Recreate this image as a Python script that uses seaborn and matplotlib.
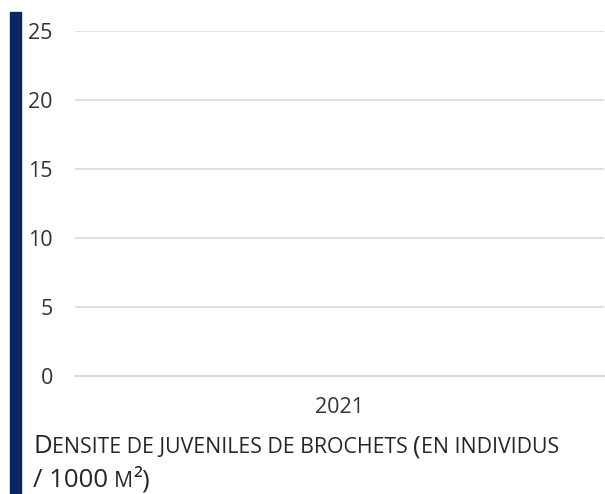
import matplotlib
matplotlib.use("Agg")
import matplotlib.pyplot as plt
import matplotlib.patches as mpatches
import seaborn as sns

# data
years = ["2021"]
densite = [0]
y_ticks = [0, 5, 10, 15, 20, 25]

sns.set_theme(style="white")
plt.rcParams["font.family"] = ["Open Sans", "DejaVu Sans"]

fig = plt.figure(figsize=(6.05, 4.94), dpi=100)
ax = fig.add_axes([75 / 605, 1 - 376 / 494, 529 / 605, 345 / 494])

sns.barplot(x=years, y=densite, color="#4472c4", ax=ax)

ax.set_ylim(0, 25)
ax.set_xlim(-0.5, 0.5)
ax.set_yticks(y_ticks)
ax.set_yticklabels([str(v) for v in y_ticks], fontsize=15.5, color="#333333")
ax.tick_params(axis="y", length=0, pad=16)
ax.yaxis.grid(True, color="#d9d9d9", linewidth=1.2)
ax.set_axisbelow(True)

# category borders ticks + centred label
ax.set_xticks([-0.5, 0.5])
ax.set_xticklabels(["", ""])
ax.tick_params(axis="x", which="major", length=5, width=1.5, color="#d9d9d9", direction="out")
ax.set_xticks([0], minor=True)
ax.set_xticklabels(years, minor=True, fontsize=15.5, color="#333333")
ax.tick_params(axis="x", which="minor", length=0, pad=15)
ax.set_xlabel("")
ax.set_ylabel("")

for side in ["top", "right", "left"]:
    ax.spines[side].set_visible(False)
ax.spines["bottom"].set_color("#d9d9d9")
ax.spines["bottom"].set_linewidth(1.5)

# dark blue band on the left
fig.patches.append(mpatches.Rectangle((10 / 605, 0), 11 / 605, 1 - 12.5 / 494,
                                      transform=fig.transFigure, color="#0b2563"))

# small caps title at the bottom
big, small = 18.5, 15.3
renderer = fig.canvas.get_renderer()


def write_runs(runs, x, y):
    for text, size, gap in runs:
        t = fig.text(x, y, text, fontsize=size, color="#262626", va="baseline", ha="left")
        bb = t.get_window_extent(renderer)
        x = bb.x1 / fig.bbox.width + gap / 605


write_runs([("D", big, 0), ("ENSITE DE JUVENILES DE BROCHETS", small, 6),
            ("(", big, 0), ("EN INDIVIDUS", small, 0)], 33 / 605, 1 - 453 / 494)
write_runs([("/ 1000", big, 6), ("M", small, 0), ("²)", big, 0)], 33 / 605, 1 - 487 / 494)

fig.savefig("out.png", dpi=100)
